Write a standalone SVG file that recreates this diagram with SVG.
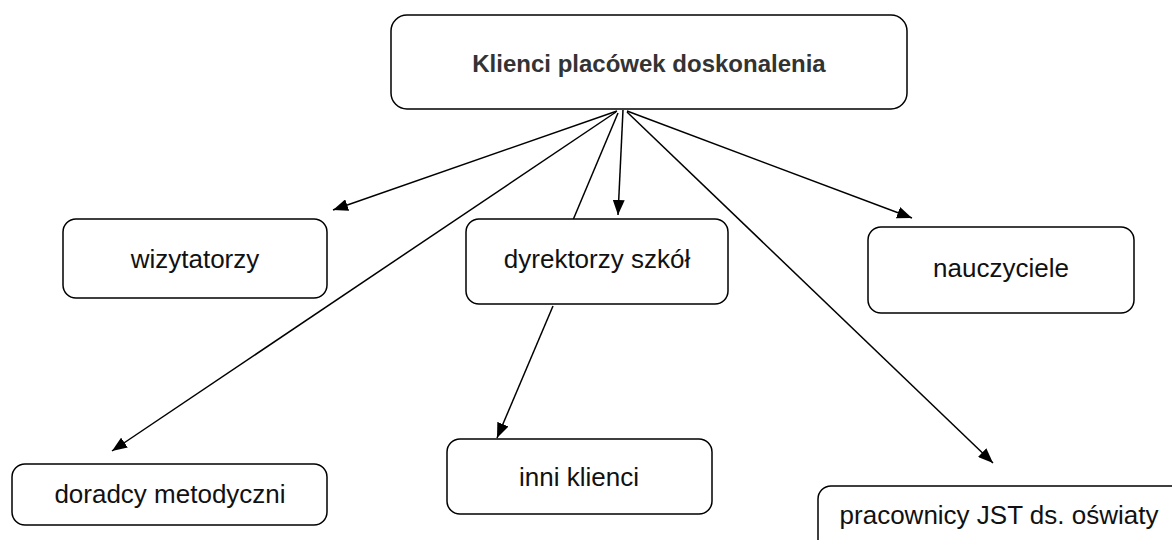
<svg xmlns="http://www.w3.org/2000/svg" width="1172" height="540" viewBox="0 0 1172 540">
<style>
.box{fill:#fff;stroke:#000;stroke-width:1.5}
.lbl{font-family:"Liberation Sans",Arial,sans-serif;font-size:26px;fill:#111;text-anchor:middle}
.ttl{font-family:"Liberation Sans",Arial,sans-serif;font-size:24px;font-weight:bold;fill:#333;text-anchor:middle}
.ln{stroke:#000;stroke-width:1.5;fill:none}
</style>
<defs>
<marker id="ah" markerUnits="userSpaceOnUse" markerWidth="16" markerHeight="12" refX="15" refY="6" orient="auto">
<path d="M0,0 L15,6 L0,12 z" fill="#000"/>
</marker>
</defs>
<rect width="1172" height="540" fill="#fff"/>
<g id="connectors">
<line class="ln" x1="617" y1="111" x2="333" y2="210" marker-end="url(#ah)"/>
<line class="ln" x1="616" y1="112" x2="112" y2="451" marker-end="url(#ah)"/>
<line class="ln" x1="618" y1="113" x2="573" y2="220"/>
<line class="ln" x1="623" y1="110" x2="618" y2="215" marker-end="url(#ah)"/>
<line class="ln" x1="627" y1="111" x2="912" y2="218" marker-end="url(#ah)"/>
<line class="ln" x1="627" y1="112" x2="993" y2="463" marker-end="url(#ah)"/>
<line class="ln" x1="553" y1="306" x2="497" y2="438" marker-end="url(#ah)"/>
</g>
<g id="n-top"><rect class="box" x="391" y="15" width="516" height="94" rx="16"/><text class="ttl" x="649" y="72">Klienci placówek doskonalenia</text></g>
<g id="n-wiz"><rect class="box" x="63" y="219" width="264" height="79" rx="13"/><text class="lbl" x="195" y="268">wizytatorzy</text></g>
<g id="n-dyr"><rect class="box" x="466" y="219" width="262" height="85" rx="13"/><text class="lbl" x="597" y="268">dyrektorzy szkół</text></g>
<g id="n-nau"><rect class="box" x="868" y="227" width="266" height="86" rx="13"/><text class="lbl" x="1001" y="277">nauczyciele</text></g>
<g id="n-dor"><rect class="box" x="12" y="464" width="315" height="61" rx="13"/><text class="lbl" x="170" y="503">doradcy metodyczni</text></g>
<g id="n-inn"><rect class="box" x="447" y="439" width="265" height="75" rx="13"/><text class="lbl" x="579" y="486">inni klienci</text></g>
<g id="n-pra"><rect class="box" x="818" y="486" width="366" height="70" rx="13"/><text class="lbl" x="999" y="524">pracownicy JST ds. oświaty</text></g>
</svg>
